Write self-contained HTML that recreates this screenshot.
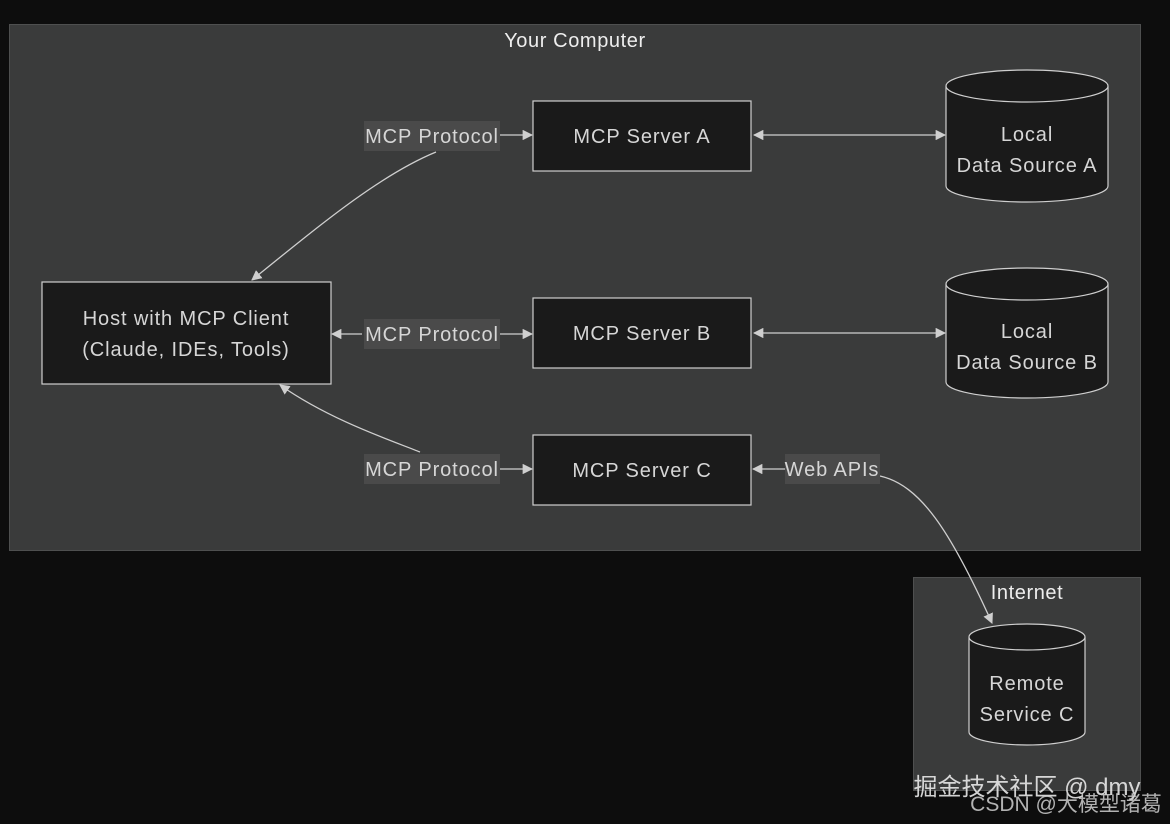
<!DOCTYPE html>
<html><head><meta charset="utf-8"><style>
html,body{margin:0;padding:0;background:#0d0d0d;}
svg{display:block;}
text{font-family:"Liberation Sans","Noto Sans CJK SC",sans-serif;}
</style></head><body>
<svg width="1170" height="824" viewBox="0 0 1170 824" xmlns="http://www.w3.org/2000/svg">
<defs>
<marker id="a" viewBox="0 0 10 10" refX="9" refY="5" markerWidth="8" markerHeight="8" orient="auto-start-reverse"><path d="M0,0L10,5L0,10z" fill="#cfcfcf"/></marker>
</defs>
<rect width="1170" height="824" fill="#0d0d0d"/>
<rect x="9.5" y="24.5" width="1131" height="526" fill="#3a3b3b" stroke="#4e4f4f"/>
<text x="575" y="47" fill="#eee" font-size="20" letter-spacing="0.6" text-anchor="middle">Your Computer</text>
<rect x="913.5" y="577.5" width="227" height="213" fill="#3a3b3b" stroke="#4e4f4f"/>
<text x="1027" y="599" fill="#eee" font-size="20" letter-spacing="0.6" text-anchor="middle">Internet</text>

<g fill="none" stroke="#cfcfcf" stroke-width="1.3">
<path d="M436,152 C380,175 320,225 252,280" marker-end="url(#a)"/>
<path d="M500,135 L532,135" marker-end="url(#a)"/>
<path d="M362,334 L332,334" marker-end="url(#a)"/>
<path d="M500,334 L532,334" marker-end="url(#a)"/>
<path d="M420,452 C390,440 330,420 280,385" marker-end="url(#a)"/>
<path d="M500,469 L532,469" marker-end="url(#a)"/>
<path d="M785,469 L753,469" marker-end="url(#a)"/>
<path d="M880,476 C920,485 950,530 992,623" marker-end="url(#a)"/>
<path d="M754,135 L945,135" marker-start="url(#a)" marker-end="url(#a)"/>
<path d="M754,333 L945,333" marker-start="url(#a)" marker-end="url(#a)"/>
</g>

<g fill="#1a1a1a" stroke="#cfcfcf" stroke-width="1.2">
<rect x="42" y="282" width="289" height="102"/>
<rect x="533" y="101" width="218" height="70"/>
<rect x="533" y="298" width="218" height="70"/>
<rect x="533" y="435" width="218" height="70"/>
<path d="M946,86 A81,16 0 0 1 1108,86 L1108,186 A81,16 0 0 1 946,186 Z"/>
<path d="M946,86 A81,16 0 0 0 1108,86"/>
<path d="M946,284 A81,16 0 0 1 1108,284 L1108,382 A81,16 0 0 1 946,382 Z"/>
<path d="M946,284 A81,16 0 0 0 1108,284"/>
<path d="M969,637 A58,13 0 0 1 1085,637 L1085,732 A58,13 0 0 1 969,732 Z"/>
<path d="M969,637 A58,13 0 0 0 1085,637"/>
</g>

<g fill="#4a4a4a">
<rect x="364" y="121" width="136" height="30"/>
<rect x="364" y="319" width="136" height="30"/>
<rect x="364" y="454" width="136" height="30"/>
<rect x="785" y="454" width="95" height="30"/>
</g>
<g fill="#d6d6d6" font-size="20" letter-spacing="0.9" text-anchor="middle">
<text x="432" y="143">MCP Protocol</text>
<text x="432" y="341">MCP Protocol</text>
<text x="432" y="476">MCP Protocol</text>
<text x="832" y="476">Web APIs</text>
<text x="186" y="325">Host with MCP Client</text>
<text x="186" y="356">(Claude, IDEs, Tools)</text>
<text x="642" y="143">MCP Server A</text>
<text x="642" y="340">MCP Server B</text>
<text x="642" y="477">MCP Server C</text>
<text x="1027" y="141">Local</text>
<text x="1027" y="172">Data Source A</text>
<text x="1027" y="338">Local</text>
<text x="1027" y="369">Data Source B</text>
<text x="1027" y="690">Remote</text>
<text x="1027" y="721">Service C</text>
</g>
<text x="1027" y="795" fill="#e8e8e8" font-size="24" text-anchor="middle" opacity="0.9">掘金技术社区 @ dmy</text>
<text x="1066" y="811" fill="#cfcfcf" font-size="21" text-anchor="middle" opacity="0.85">CSDN @大模型诸葛</text>
</svg>
</body></html>
